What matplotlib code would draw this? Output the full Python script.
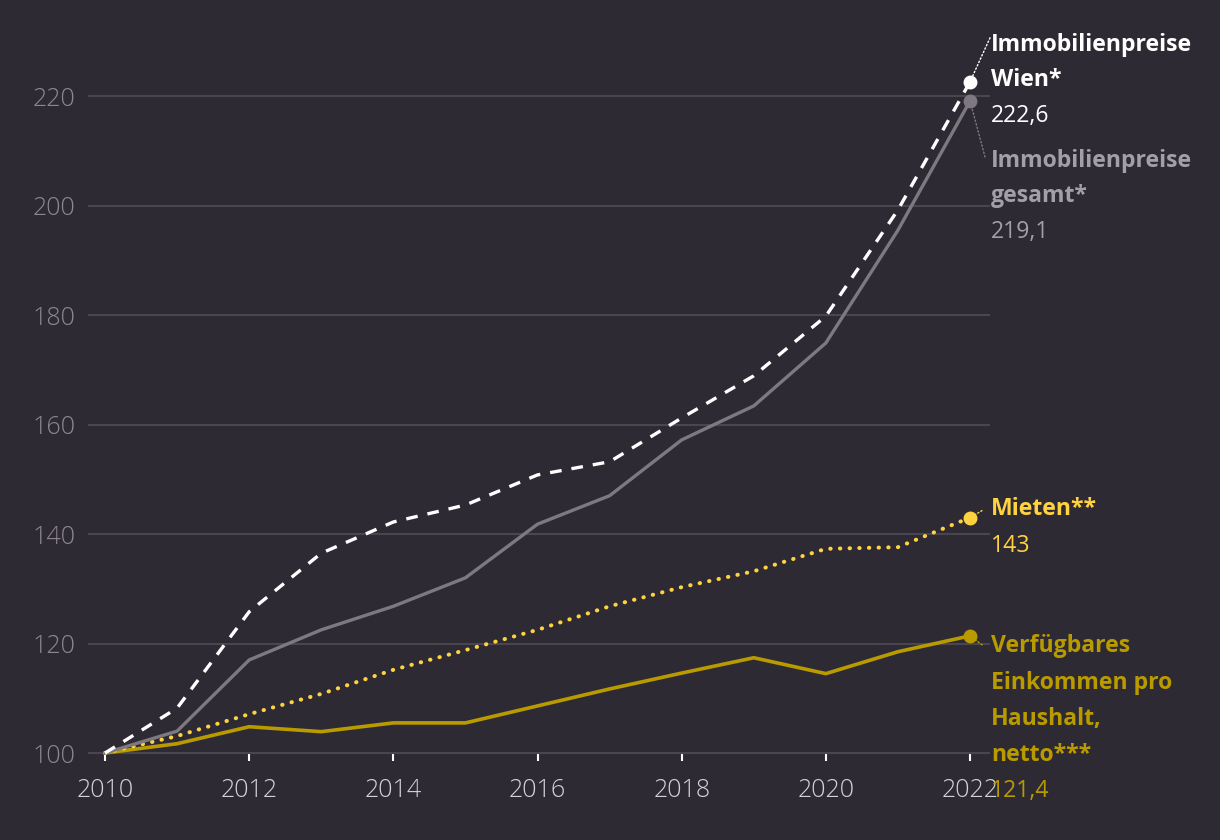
import matplotlib.pyplot as plt

years = list(range(2010, 2023))
wien = [100, 108.2, 125.8, 136.5, 142.2, 145.3, 150.8, 153.2, 161.2, 168.9, 179.8, 199.2, 222.6]
gesamt = [100, 104.0, 117.0, 122.5, 126.8, 132.0, 141.8, 147.0, 157.2, 163.4, 174.9, 195.5, 219.1]
mieten = [100, 103.1, 107.1, 110.8, 115.2, 118.8, 122.5, 126.8, 130.3, 133.2, 137.3, 137.6, 143.0]
einkommen = [100, 101.7, 104.8, 103.9, 105.5, 105.5, 108.6, 111.7, 114.6, 117.4, 114.5, 118.5, 121.4]

BG = "#2e2a33"
WHITE = "#ffffff"
GRAY = "#7e7981"
YELLOW = "#ffd33f"
GOLD = "#b99b00"

plt.rcParams["font.family"] = ["Open Sans", "DejaVu Sans"]

fig = plt.figure(figsize=(12.2, 8.4), dpi=100, facecolor=BG)
ax = fig.add_axes([88 / 1220, 0.084, 902 / 1220, 0.8538], facecolor=BG)
ax.set_xlim(2009.764, 2022.277)
ax.set_ylim(97, 228)

ax.set_yticks(range(100, 221, 20))
ax.set_xticks(range(2010, 2023, 2))
ax.grid(axis="y", color="#4a4650", lw=1.5)
ax.set_axisbelow(True)
for s in ax.spines.values():
    s.set_visible(False)
ax.spines["bottom"].set_position(("data", 100))
ax.tick_params(axis="y", length=0, pad=9, labelsize=18, labelcolor="#8c8791")
ax.tick_params(axis="x", length=6, width=1.5, color=WHITE, pad=12,
               labelsize=18, labelcolor="#d5d1d8")
for lab in ax.get_xticklabels() + ax.get_yticklabels():
    lab.set_fontweight("light")

ax.plot(years, einkommen, color=GOLD, lw=2.6, solid_capstyle="round", clip_on=False)
ax.plot(years, mieten, color=YELLOW, lw=2.9, linestyle=(0, (0.1, 2.3)),
        dash_capstyle="round", clip_on=False)
ax.plot(years, gesamt, color=GRAY, lw=2.4, clip_on=False)
ax.plot(years, wien, color=WHITE, lw=2.4, linestyle=(0, (3.5, 3)), clip_on=False)

series = [
    (wien, WHITE, WHITE, (20, 44),
     [("Immobilienpreise", 37, True), ("Wien*", 2, True), ("222,6", -34, False)]),
    (gesamt, GRAY, "#a39fa6", (15, -56),
     [("Immobilienpreise", -60, True), ("gesamt*", -95, True), ("219,1", -131, False)]),
    (mieten, YELLOW, YELLOW, (12, 7), [("Mieten**", 9, True), ("143", -28, False)]),
    (einkommen, GOLD, GOLD, (12, -9),
     [("Verfügbares", -10, True), ("Einkommen pro", -47, True), ("Haushalt,", -83, True),
      ("netto***", -119, True), ("121,4", -155, False)]),
]

for values, color, tcolor, lead, lines in series:
    ax.plot(years[-1], values[-1], "o", ms=9, color=color, clip_on=False, zorder=5)
    ax.annotate("", xy=(years[-1], values[-1]), xytext=lead, textcoords="offset pixels",
                arrowprops=dict(arrowstyle="-", color=color, lw=1, linestyle=":",
                                shrinkA=0, shrinkB=4))
    for text, dy, bold in lines:
        ax.annotate(text, xy=(years[-1], values[-1]), xytext=(21, dy),
                    textcoords="offset pixels", va="center", ha="left",
                    fontsize=16.6, color=tcolor, fontweight="bold" if bold else "normal",
                    annotation_clip=False)

fig.savefig("out.png", dpi=100, facecolor=BG)
